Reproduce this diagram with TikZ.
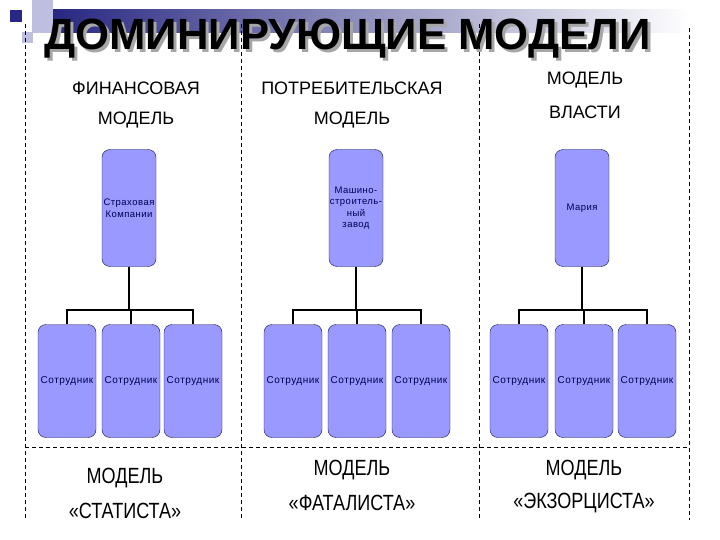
\documentclass[tikz,border=0pt]{standalone}
\usepackage{fontspec}
\usepackage{tikz}
\setmainfont{Liberation Sans}
\newfontfamily\boxfont[LetterSpace=5]{Liberation Sans}
\newfontfamily\narrowfont[FakeStretch=0.82]{Liberation Sans}
\definecolor{boxfill}{RGB}{153, 153, 255}
\definecolor{boxline}{RGB}{20, 20, 70}
\definecolor{boxtext}{RGB}{0, 0, 80}
\definecolor{titleblue}{RGB}{40, 40, 130}
\definecolor{deco}{RGB}{190, 190, 225}

\begin{document}
\begin{tikzpicture}[x=1pt, y=-1pt,
    head/.style={font=\fontsize{18}{21}\selectfont},
    foot/.style={font=\narrowfont\fontsize{22}{26}\selectfont},
    boss/.style={draw=boxline, fill=boxfill, rounded corners=8pt, minimum width=54pt, minimum height=117pt,
      inner sep=0pt, text=boxtext, align=center, font=\boxfont\fontsize{9.5}{11.5}\selectfont},
    staff/.style={draw=boxline, fill=boxfill, rounded corners=8pt, minimum width=58pt, minimum height=113pt,
      inner sep=0pt, text=boxtext, font=\boxfont\fontsize{10}{12}\selectfont},
    titletext/.style={font=\bfseries\fontsize{43.7}{50}\selectfont, anchor=base},
    link/.style={line width=1.8pt},
    sep/.style={dash pattern=on 4pt off 3pt, line width=0.7pt}]
        \useasboundingbox (0,0) rectangle (720,540);
        % title bar
        \shade[left color=titleblue, right color=white] (53,10) rectangle (690,33);
        \fill[deco] (32,0) rectangle (53,33);
        \fill[deco] (22,32) rectangle (33,43);
        \fill[titleblue] (10,10) rectangle (22,22);
        \node[titletext, text=gray!70] at (350.5,53) {ДОМИНИРУЮЩИЕ МОДЕЛИ};
        \node[titletext] (title) at (347.5,50) {ДОМИНИРУЮЩИЕ МОДЕЛИ};
        % dashed frame
        \coordinate (s0t) at (25,24);  \coordinate (s0b) at (25,520);
        \coordinate (s1t) at (241,24); \coordinate (s1b) at (241,520);
        \coordinate (s2t) at (479,24); \coordinate (s2b) at (479,520);
        \coordinate (s3t) at (689,28); \coordinate (s3b) at (689,520);
        \draw[sep] (s0t) -- (s0b) (s1t) -- (s1b) (s2t) -- (s2b) (s3t) -- (s3b);
        \draw[sep] (25,447) -- (689,447);
        % headers
        \node[head] (hf1) at (136,88) {ФИНАНСОВАЯ};
        \node[head] (hf2) at (136,120) {МОДЕЛЬ};
        \node[head] (hp1) at (352,88) {ПОТРЕБИТЕЛЬСКАЯ};
        \node[head] (hp2) at (352,120) {МОДЕЛЬ};
        \node[head] (hv1) at (585,80) {МОДЕЛЬ};
        \node[head] (hv2) at (585,112) {ВЛАСТИ};
        % financial model
        \node[boss] (f0) at (129,208) {Страховая\\Компании};
        \node[staff] (f1) at (67,381) {Сотрудник};
        \node[staff] (f2) at (131,381) {Сотрудник};
        \node[staff] (f3) at (193,381) {Сотрудник};
        \coordinate (fj) at (f0.south |- 0,310);
        \draw[link] (f0.south) -- (fj) (f1.north) |- (fj) -| (f3.north) (f2.north) -- (f2.north |- fj);
        % consumer model
        \node[boss] (p0) at (356,208) {Машино-\\строитель-\\ный\\завод};
        \node[staff] (p1) at (293,381) {Сотрудник};
        \node[staff] (p2) at (357,381) {Сотрудник};
        \node[staff] (p3) at (421,381) {Сотрудник};
        \coordinate (pj) at (p0.south |- 0,310);
        \draw[link] (p0.south) -- (pj) (p1.north) |- (pj) -| (p3.north) (p2.north) -- (p2.north |- pj);
        % power model
        \node[boss] (v0) at (582,208) {Мария};
        \node[staff] (v1) at (519,381) {Сотрудник};
        \node[staff] (v2) at (584,381) {Сотрудник};
        \node[staff] (v3) at (647,381) {Сотрудник};
        \coordinate (vj) at (v0.south |- 0,310);
        \draw[link] (v0.south) -- (vj) (v1.north) |- (vj) -| (v3.north) (v2.north) -- (v2.north |- vj);
        % footers
        \node[foot] (bf1) at (125,478) {МОДЕЛЬ};
        \node[foot] (bf2) at (125,511) {«СТАТИСТА»};
        \node[foot] (bp1) at (352,470) {МОДЕЛЬ};
        \node[foot] (bp2) at (352,503) {«ФАТАЛИСТА»};
        \node[foot] (bv1) at (584,470) {МОДЕЛЬ};
        \node[foot] (bv2) at (584,503) {«ЭКЗОРЦИСТА»};
\end{tikzpicture}
\end{document}
